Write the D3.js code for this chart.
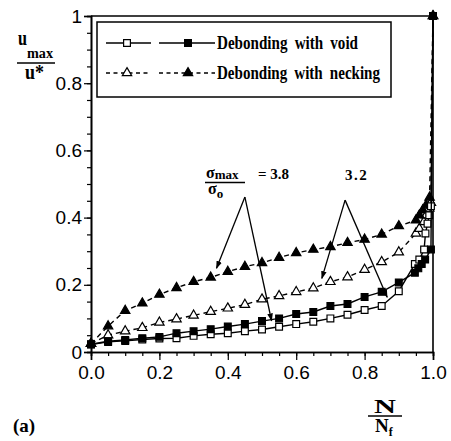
<!DOCTYPE html>
<html>
<head>
<meta charset="utf-8">
<script src="https://cdn.jsdelivr.net/npm/d3@7"></script>
<style>
  html, body { margin: 0; padding: 0; background: #fff; }
  svg { display: block; }
  .tick text { font-family: "Liberation Sans", Arial, sans-serif; font-size: 19px; fill: #000; }
  .serif { font-family: "Liberation Serif", "Times New Roman", serif; font-weight: bold; fill: #000; }
</style>
</head>
<body>
<svg id="chart" width="451" height="441"></svg>
<script>
// Normalised cycle fraction N/Nf and normalised maximum displacement u_max/u*
// Debonding with void, sigma_max/sigma_0 = 3.8 (filled squares)
const voidHighX = [0, 0.05, 0.1, 0.15, 0.2, 0.25, 0.3, 0.35, 0.4, 0.45, 0.5, 0.55, 0.6, 0.65, 0.7, 0.75, 0.8, 0.85, 0.9,
                   0.947, 0.957, 0.967, 0.977, 0.994, 1.0];
const voidHighY = [0.023, 0.032, 0.036, 0.041, 0.045, 0.056, 0.062, 0.068, 0.076, 0.083, 0.092, 0.100, 0.113, 0.119, 0.137, 0.143, 0.164, 0.179, 0.207,
                   0.236, 0.249, 0.262, 0.275, 0.305, 1.0];
// Debonding with void, sigma_max/sigma_0 = 3.2 (open squares)
const voidLowX = [0, 0.05, 0.1, 0.15, 0.2, 0.25, 0.3, 0.35, 0.4, 0.45, 0.5, 0.55, 0.6, 0.65, 0.7, 0.75, 0.8, 0.85, 0.9,
                  0.947, 0.96, 0.974, 0.978, 0.984, 0.989, 0.994, 1.0];
const voidLowY = [0.022, 0.030, 0.033, 0.037, 0.040, 0.041, 0.048, 0.053, 0.056, 0.062, 0.067, 0.075, 0.083, 0.090, 0.100, 0.111, 0.125, 0.137, 0.181,
                  0.262, 0.275, 0.305, 0.353, 0.382, 0.407, 0.434, 1.0];
// Debonding with necking, sigma_max/sigma_0 = 3.8 (filled triangles)
const neckHighX = [0, 0.05, 0.1, 0.15, 0.2, 0.25, 0.3, 0.35, 0.4, 0.45, 0.5, 0.55, 0.6, 0.65, 0.7, 0.75, 0.8, 0.85, 0.9,
                   0.95, 0.96, 0.97, 0.98, 0.99, 1.0];
const neckHighY = [0.025, 0.077, 0.123, 0.145, 0.171, 0.191, 0.209, 0.222, 0.239, 0.254, 0.265, 0.281, 0.295, 0.305, 0.313, 0.325, 0.335, 0.350, 0.375,
                   0.392, 0.407, 0.422, 0.437, 0.460, 1.0];
// Debonding with necking, sigma_max/sigma_0 = 3.2 (open triangles)
const neckLowX = [0, 0.05, 0.1, 0.15, 0.2, 0.25, 0.3, 0.35, 0.4, 0.45, 0.5, 0.55, 0.6, 0.65, 0.7, 0.75, 0.8, 0.85, 0.9,
                  0.95, 0.96, 0.973, 0.98, 0.989, 0.994, 1.0];
const neckLowY = [0.025, 0.050, 0.062, 0.072, 0.088, 0.098, 0.109, 0.120, 0.130, 0.141, 0.157, 0.167, 0.179, 0.190, 0.209, 0.223, 0.245, 0.268, 0.297,
                  0.353, 0.367, 0.387, 0.407, 0.427, 0.444, 1.0];

const xTicks = [0, 0.2, 0.4, 0.6, 0.8, 1.0];
const xTickLabels = ["0.0", "0.2", "0.4", "0.6", "0.8", "1.0"];
const yTicks = [0, 0.2, 0.4, 0.6, 0.8, 1.0];
const yTickLabels = ["0", "0.2", "0.4", "0.6", "0.8", "1"];
const minorTicks = d3.range(0, 21).map(i => i * 0.05);

const legendLabels = ["Debonding with void", "Debonding with necking"];

// Arrow callouts: ratio label, apex and the two curve points each one indicates
const callouts = [
  { label: "3.8", apex: [0.450, 0.461], tips: [[0.367, 0.249], [0.528, 0.093]] },
  { label: "3.2", apex: [0.743, 0.452], tips: [[0.675, 0.219], [0.866, 0.163]] }
];

const W = 451, H = 441;
const margin = { left: 91, right: 18, top: 16, bottom: 89 };
const svg = d3.select("#chart");

const x = d3.scaleLinear().domain([0, 1]).range([margin.left, W - margin.right]);
const y = d3.scaleLinear().domain([0, 1]).range([H - margin.bottom, margin.top]);

const defs = svg.append("defs");
defs.append("marker")
  .attr("id", "arrowhead")
  .attr("viewBox", "0 0 10 10")
  .attr("refX", 9).attr("refY", 5)
  .attr("markerWidth", 8).attr("markerHeight", 8)
  .attr("markerUnits", "userSpaceOnUse")
  .attr("orient", "auto")
  .append("path").attr("d", "M0,1.5 L10,5 L0,8.5 Z").attr("fill", "#000");

// Minor and major ticks
const gx = svg.append("g").attr("transform", `translate(0,${y(0)})`);
gx.call(d3.axisBottom(x).tickValues(minorTicks).tickSize(4).tickFormat(""));
const gxMajor = svg.append("g").attr("transform", `translate(0,${y(0)})`);
gxMajor.call(d3.axisBottom(x).tickValues(xTicks).tickSize(8).tickPadding(6)
  .tickFormat((d, i) => xTickLabels[i]));

const gy = svg.append("g").attr("transform", `translate(${x(0)},0)`);
gy.call(d3.axisLeft(y).tickValues(minorTicks).tickSize(4).tickFormat(""));
const gyMajor = svg.append("g").attr("transform", `translate(${x(0)},0)`);
gyMajor.call(d3.axisLeft(y).tickValues(yTicks).tickSize(7).tickPadding(2)
  .tickFormat((d, i) => yTickLabels[i]));

svg.selectAll(".domain").attr("stroke", "#000").attr("stroke-width", 1.6);
svg.selectAll(".tick line").attr("stroke", "#000").attr("stroke-width", 1.2);

// Frame top and right
svg.append("path")
  .attr("d", `M${x(0)},${y(1)} H${x(1)} V${y(0)}`)
  .attr("fill", "none").attr("stroke", "#000").attr("stroke-width", 1.6);

// Curves
const line = d3.line().x(d => x(d[0])).y(d => y(d[1]));
const series = [
  { xs: neckLowX, ys: neckLowY, dash: "5,4", marker: "triangle", filled: false },
  { xs: neckHighX, ys: neckHighY, dash: "5,4", marker: "triangle", filled: true },
  { xs: voidLowX, ys: voidLowY, dash: null, marker: "square", filled: false },
  { xs: voidHighX, ys: voidHighY, dash: null, marker: "square", filled: true }
];

const sym = {
  square: d3.symbol().type(d3.symbolSquare).size(46),
  triangle: d3.symbol().type(d3.symbolTriangle).size(38)
};

series.forEach(s => {
  const pts = s.xs.map((v, i) => [v, s.ys[i]]);
  svg.append("path")
    .attr("d", line(pts))
    .attr("fill", "none").attr("stroke", "#000").attr("stroke-width", 1.4)
    .attr("stroke-dasharray", s.dash);
  svg.append("g").selectAll("path").data(pts).join("path")
    .attr("d", sym[s.marker]())
    .attr("transform", d => `translate(${x(d[0])},${y(d[1])})`)
    .attr("fill", s.filled ? "#000" : "#fff")
    .attr("stroke", "#000").attr("stroke-width", 1.2);
});

// Callout arrows
callouts.forEach(c => {
  c.tips.forEach(t => {
    svg.append("line")
      .attr("x1", x(c.apex[0])).attr("y1", y(c.apex[1]))
      .attr("x2", x(t[0])).attr("y2", y(t[1]))
      .attr("stroke", "#000").attr("stroke-width", 1.3)
      .attr("marker-end", "url(#arrowhead)");
  });
});

// Ratio label: sigma_max / sigma_0 = 3.8
const ratio = svg.append("g").attr("class", "serif");
ratio.append("text").attr("x", 206).attr("y", 178).attr("font-size", 16)
  .text("σ").append("tspan").attr("font-size", 13).attr("dy", 1).text("max");
ratio.append("line").attr("x1", 205).attr("x2", 245).attr("y1", 182.5).attr("y2", 182.5)
  .attr("stroke", "#000").attr("stroke-width", 1.3);
ratio.append("text").attr("x", 208).attr("y", 194).attr("font-size", 16)
  .text("σ").append("tspan").attr("font-size", 13).attr("dy", 4).text("o");
ratio.append("text").attr("x", 258).attr("y", 179).attr("font-size", 15)
  .text("= " + callouts[0].label);
svg.append("text").attr("class", "serif").attr("x", 345).attr("y", 180).attr("font-size", 15)
  .attr("letter-spacing", 1.5).text(callouts[1].label);

// Legend
const lg = svg.append("g");
lg.append("rect").attr("x", 97).attr("y", 22).attr("width", 294).attr("height", 75)
  .attr("fill", "#fff").attr("stroke", "#000").attr("stroke-width", 1.5);
const legendRows = [
  { y: 43, dash: null, marker: "square", label: legendLabels[0], len: 141 },
  { y: 73, dash: "4,3.5", marker: "triangle", label: legendLabels[1], len: 163 }
];
legendRows.forEach(r => {
  [[106, 151, 127, false], [159, 215, 188, true]].forEach(([a, b, m, filled]) => {
    lg.append("line").attr("x1", a).attr("x2", b).attr("y1", r.y).attr("y2", r.y)
      .attr("stroke", "#000").attr("stroke-width", 1.3).attr("stroke-dasharray", r.dash);
    lg.append("path").attr("d", sym[r.marker]())
      .attr("transform", `translate(${m},${r.y})`)
      .attr("fill", filled ? "#000" : "#fff").attr("stroke", "#000").attr("stroke-width", 1.2);
  });
  lg.append("text").attr("class", "serif").attr("x", 217).attr("y", r.y + 6)
    .attr("font-size", 18).attr("textLength", r.len).attr("lengthAdjust", "spacingAndGlyphs")
    .attr("word-spacing", 4).text(r.label);
});

// Y axis title: u_max / u*
const yt = svg.append("g").attr("class", "serif");
yt.append("text").attr("x", 18).attr("y", 45).attr("font-size", 20)
  .attr("textLength", 9).attr("lengthAdjust", "spacingAndGlyphs").text("u");
yt.append("text").attr("x", 27).attr("y", 58).attr("font-size", 15)
  .attr("textLength", 26).attr("lengthAdjust", "spacingAndGlyphs").text("max");
yt.append("line").attr("x1", 17).attr("x2", 55).attr("y1", 63).attr("y2", 63)
  .attr("stroke", "#000").attr("stroke-width", 1.4);
yt.append("text").attr("x", 25).attr("y", 79).attr("font-size", 20)
  .attr("textLength", 19).attr("lengthAdjust", "spacingAndGlyphs").text("u*");

// X axis title: N / N_f
const xt = svg.append("g").attr("class", "serif");
xt.append("text").attr("x", 374).attr("y", 413).attr("font-size", 19)
  .attr("textLength", 22).attr("lengthAdjust", "spacingAndGlyphs").text("N");
xt.append("line").attr("x1", 368).attr("x2", 402).attr("y1", 416).attr("y2", 416)
  .attr("stroke", "#000").attr("stroke-width", 1.4);
xt.append("text").attr("x", 375).attr("y", 432).attr("font-size", 19).text("N")
  .append("tspan").attr("font-size", 12).attr("dy", 4).text("f");

// Panel label
svg.append("text").attr("class", "serif").attr("x", 13).attr("y", 432).attr("font-size", 19).text("(a)");
</script>
</body>
</html>
